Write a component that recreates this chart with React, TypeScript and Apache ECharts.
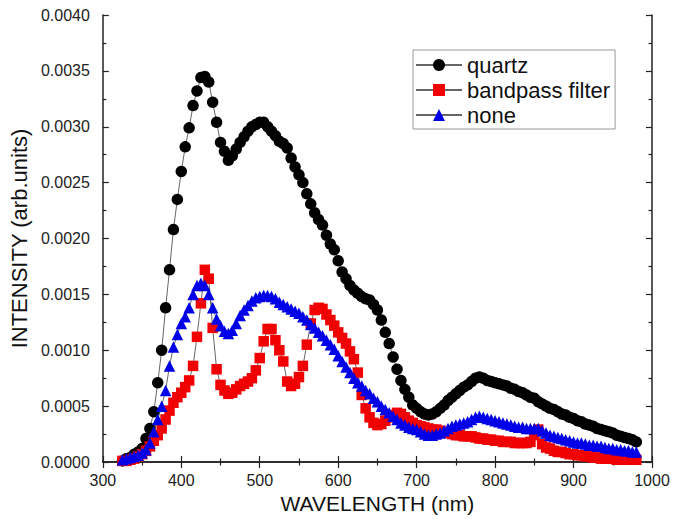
import React, { useEffect, useRef } from "react";
import * as echarts from "echarts";

const wavelengths = [
  325, 330, 335, 340, 345, 350, 355, 360, 365, 370,
  375, 380, 385, 390, 395, 400, 405, 410, 415, 420,
  425, 430, 435, 440, 445, 450, 455, 460, 465, 470,
  475, 480, 485, 490, 495, 500, 505, 510, 515, 520,
  525, 530, 535, 540, 545, 550, 555, 560, 565, 570,
  575, 580, 585, 590, 595, 600, 605, 610, 615, 620,
  625, 630, 635, 640, 645, 650, 655, 660, 665, 670,
  675, 680, 685, 690, 695, 700, 705, 710, 715, 720,
  725, 730, 735, 740, 745, 750, 755, 760, 765, 770,
  775, 780, 785, 790, 795, 800, 805, 810, 815, 820,
  825, 830, 835, 840, 845, 850, 855, 860, 865, 870,
  875, 880, 885, 890, 895, 900, 905, 910, 915, 920,
  925, 930, 935, 940, 945, 950, 955, 960, 965, 970,
  975, 980,
];

const quartz = [
  0.00001, 0.00003, 0.00004, 0.00007, 0.00009, 0.00012, 0.00021, 0.0003, 0.00045, 0.00071,
  0.001, 0.00138, 0.00172, 0.00208, 0.00235, 0.0026, 0.00282, 0.00299, 0.00319, 0.00332,
  0.00344, 0.00345, 0.0034, 0.00322, 0.00304, 0.00286, 0.00278, 0.0027, 0.00274, 0.0028,
  0.00286, 0.00291, 0.00296, 0.003, 0.00302, 0.00304, 0.00304, 0.003, 0.00296, 0.00292,
  0.00287, 0.00285, 0.00281, 0.00272, 0.00264, 0.00257, 0.0025, 0.0024, 0.00231, 0.00223,
  0.00217, 0.00212, 0.00203, 0.00195, 0.0019, 0.0018, 0.0017, 0.00164, 0.00158, 0.00154,
  0.00151, 0.00148, 0.00146, 0.00145, 0.00141, 0.00136, 0.00127, 0.00116, 0.00106, 0.00094,
  0.00083, 0.00073, 0.00065, 0.00058, 0.00051, 0.00048, 0.00045, 0.00043, 0.00042, 0.00043,
  0.00045, 0.00048, 0.00051, 0.00055, 0.00058, 0.00061, 0.00064, 0.00067, 0.00069, 0.00072,
  0.00075, 0.00076, 0.00075, 0.00073, 0.00072, 0.00071, 0.0007, 0.00069, 0.00068, 0.00066,
  0.00065, 0.00063, 0.00062, 0.0006, 0.00058, 0.00057, 0.00054, 0.00052, 0.0005, 0.00048,
  0.00047, 0.00045, 0.00043, 0.00042, 0.0004, 0.00039, 0.00037, 0.00036, 0.00034, 0.00033,
  0.00032, 0.0003, 0.00029, 0.00028, 0.00027, 0.00026, 0.00024, 0.00023, 0.00022, 0.00021,
  0.0002, 0.00018,
];

const bandpassFilter = [
  0.00001, 0.00001, 0.00002, 0.00003, 0.00005, 0.00007, 0.0001, 0.00014, 0.00019, 0.00024,
  0.0003, 0.00038, 0.00046, 0.00053, 0.00058, 0.00062, 0.00067, 0.00073, 0.00086, 0.00112,
  0.00142, 0.00172, 0.00164, 0.0012, 0.00083, 0.00069, 0.00064, 0.00061, 0.00062, 0.00065,
  0.00068, 0.0007, 0.00072, 0.00075, 0.00082, 0.00093, 0.00108, 0.00119, 0.00119, 0.00109,
  0.001, 0.0009, 0.00072, 0.00068, 0.0007, 0.00076, 0.00086, 0.00105, 0.00124, 0.00136,
  0.00138, 0.00137, 0.00132, 0.00127, 0.00122, 0.00116, 0.00111, 0.00106, 0.00099, 0.00092,
  0.0008, 0.0006, 0.00048, 0.0004, 0.00035, 0.00033, 0.00034, 0.00037, 0.0004, 0.00042,
  0.00044, 0.00043, 0.0004, 0.00037, 0.00035, 0.00033, 0.00032, 0.00031, 0.0003, 0.00029,
  0.00029, 0.00028, 0.00027, 0.00026, 0.00025, 0.00024, 0.00024, 0.00023, 0.00023, 0.00023,
  0.00022, 0.00021, 0.00021, 0.0002, 0.0002, 0.00019, 0.00019, 0.00018, 0.00018, 0.00018,
  0.00017, 0.00017, 0.00017, 0.00017, 0.00018, 0.00024, 0.00029, 0.00016, 0.00013, 0.00012,
  0.0001, 0.00009, 0.00009, 0.00008, 0.00007, 0.00007, 0.00006, 0.00006, 0.00005, 0.00005,
  0.00004, 0.00004, 0.00003, 0.00003, 0.00003, 0.00003, 0.00002, 0.00002, 0.00002, 0.00002,
  0.00002, 0.00002,
];

const none = [
  0.00002, 0.00003, 0.00004, 0.00005, 0.00006, 0.00008, 0.00011, 0.00017, 0.00027, 0.00038,
  0.0005, 0.00064, 0.00086, 0.00103, 0.00114, 0.00124, 0.0013, 0.00138, 0.0015, 0.00158,
  0.0016, 0.00158, 0.0015, 0.00138, 0.00128, 0.00122, 0.00117, 0.00115, 0.00118, 0.00124,
  0.00131, 0.00136, 0.0014, 0.00144, 0.00147, 0.00148, 0.00149, 0.00149, 0.00148, 0.00146,
  0.00143, 0.00141, 0.00139, 0.00137, 0.00135, 0.00133, 0.0013, 0.00127, 0.00123, 0.0012,
  0.00116, 0.00113, 0.00109, 0.00105, 0.00101, 0.00095, 0.0009, 0.00085, 0.0008, 0.00075,
  0.00071, 0.00068, 0.00064, 0.00061, 0.00057, 0.00054, 0.0005, 0.00047, 0.00044, 0.00041,
  0.00038, 0.00035, 0.00033, 0.00031, 0.0003, 0.00029, 0.00027, 0.00025, 0.00024, 0.00024,
  0.00025, 0.00026, 0.00028, 0.0003, 0.00032, 0.00033, 0.00034, 0.00035, 0.00036, 0.00038,
  0.0004, 0.00041, 0.0004, 0.00039, 0.00038, 0.00037, 0.00036, 0.00035, 0.00034, 0.00033,
  0.00032, 0.00031, 0.00031, 0.0003, 0.0003, 0.0003, 0.0003, 0.00028, 0.00026, 0.00024,
  0.00023, 0.00022, 0.00021, 0.0002, 0.00019, 0.00018, 0.00017, 0.00017, 0.00016, 0.00015,
  0.00015, 0.00014, 0.00014, 0.00013, 0.00012, 0.00012, 0.00011, 0.00011, 0.0001, 0.0001,
  0.00009, 0.00009,
];

const seriesNames = ["quartz", "bandpass filter", "none"];
const xTicks = { min: 300, max: 1000, interval: 100 };
const yTicks = { min: 0, max: 0.004, interval: 0.0005 };

const FONT = "'Liberation Sans', Arial, Helvetica, sans-serif";

export default function App() {
  const ref = useRef<HTMLDivElement>(null);

  useEffect(() => {
    if (!ref.current) return;
    const chart = echarts.init(ref.current, null, { renderer: "svg" });

    const pair = (vals: number[]) => wavelengths.map((w, i) => [w, vals[i]]);

    const axisLineStyle = { color: "#222", width: 1.5 };
    const tickStyle = {
      show: true,
      inside: true,
      length: 6,
      lineStyle: { color: "#222", width: 1.2 },
    };
    const minorStyle = {
      show: true,
      splitNumber: 2,
      length: 3.5,
      lineStyle: { color: "#222", width: 1.2 },
    };

    const lineStyle = { color: "#666", width: 1 };

    chart.setOption({
      animation: false,
      backgroundColor: "#fff",
      grid: { left: 97, right: 22, top: 15, bottom: 57, containLabel: false },
      legend: {
        left: 413,
        top: 50,
        orient: "vertical",
        data: seriesNames,
        itemWidth: 46,
        itemHeight: 15,
        itemGap: 3,
        padding: [4, 5, 3, 2],
        borderColor: "#999",
        borderWidth: 1,
        backgroundColor: "#fff",
        textStyle: { fontFamily: FONT, fontSize: 22, color: "#111", lineHeight: 22 },
      },
      xAxis: [
        {
          type: "value",
          position: "bottom",
          min: xTicks.min,
          max: xTicks.max,
          interval: xTicks.interval,
          name: "WAVELENGTH (nm)",
          nameLocation: "middle",
          nameGap: 30,
          nameTextStyle: { fontFamily: FONT, fontSize: 21, color: "#111" },
          axisLine: { show: true, lineStyle: axisLineStyle },
          axisTick: tickStyle,
          minorTick: minorStyle,
          splitLine: { show: false },
          axisLabel: {
            fontFamily: FONT,
            fontSize: 16,
            color: "#222",
            margin: 10,
            formatter: (v: number) => String(v),
          },
        },
        {
          type: "value",
          position: "top",
          min: xTicks.min,
          max: xTicks.max,
          interval: xTicks.interval,
          axisLine: { show: true, lineStyle: axisLineStyle },
          axisTick: tickStyle,
          minorTick: minorStyle,
          splitLine: { show: false },
          axisLabel: { show: false },
        },
      ],
      yAxis: [
        {
          type: "value",
          position: "left",
          min: yTicks.min,
          max: yTicks.max,
          interval: yTicks.interval,
          name: "INTENSITY (arb.units)",
          nameLocation: "middle",
          nameGap: 64,
          nameTextStyle: { fontFamily: FONT, fontSize: 22, color: "#111" },
          axisLine: { show: true, lineStyle: axisLineStyle },
          axisTick: tickStyle,
          minorTick: minorStyle,
          splitLine: { show: false },
          axisLabel: {
            fontFamily: FONT,
            fontSize: 16,
            color: "#222",
            margin: 13,
            formatter: (v: number) => v.toFixed(4),
          },
        },
        {
          type: "value",
          position: "right",
          min: yTicks.min,
          max: yTicks.max,
          interval: yTicks.interval,
          axisLine: { show: true, lineStyle: axisLineStyle },
          axisTick: tickStyle,
          minorTick: minorStyle,
          splitLine: { show: false },
          axisLabel: { show: false },
        },
      ],
      series: [
        {
          name: seriesNames[0],
          type: "line",
          xAxisIndex: 0,
          yAxisIndex: 0,
          data: pair(quartz),
          symbol: "circle",
          symbolSize: 11.5,
          showSymbol: true,
          lineStyle,
          itemStyle: { color: "#000" },
        },
        {
          name: seriesNames[1],
          type: "line",
          xAxisIndex: 0,
          yAxisIndex: 0,
          data: pair(bandpassFilter),
          symbol: "rect",
          symbolSize: 10.5,
          showSymbol: true,
          lineStyle,
          itemStyle: { color: "#f00000" },
        },
        {
          name: seriesNames[2],
          type: "line",
          xAxisIndex: 0,
          yAxisIndex: 0,
          data: pair(none),
          symbol: "triangle",
          symbolSize: 11.5,
          showSymbol: true,
          lineStyle,
          itemStyle: { color: "#0000e8" },
        },
      ],
    });

    return () => chart.dispose();
  }, []);

  return (
    <div
      ref={ref}
      style={{ position: "fixed", left: 0, top: 0, width: 674, height: 519, background: "#fff" }}
    />
  );
}
